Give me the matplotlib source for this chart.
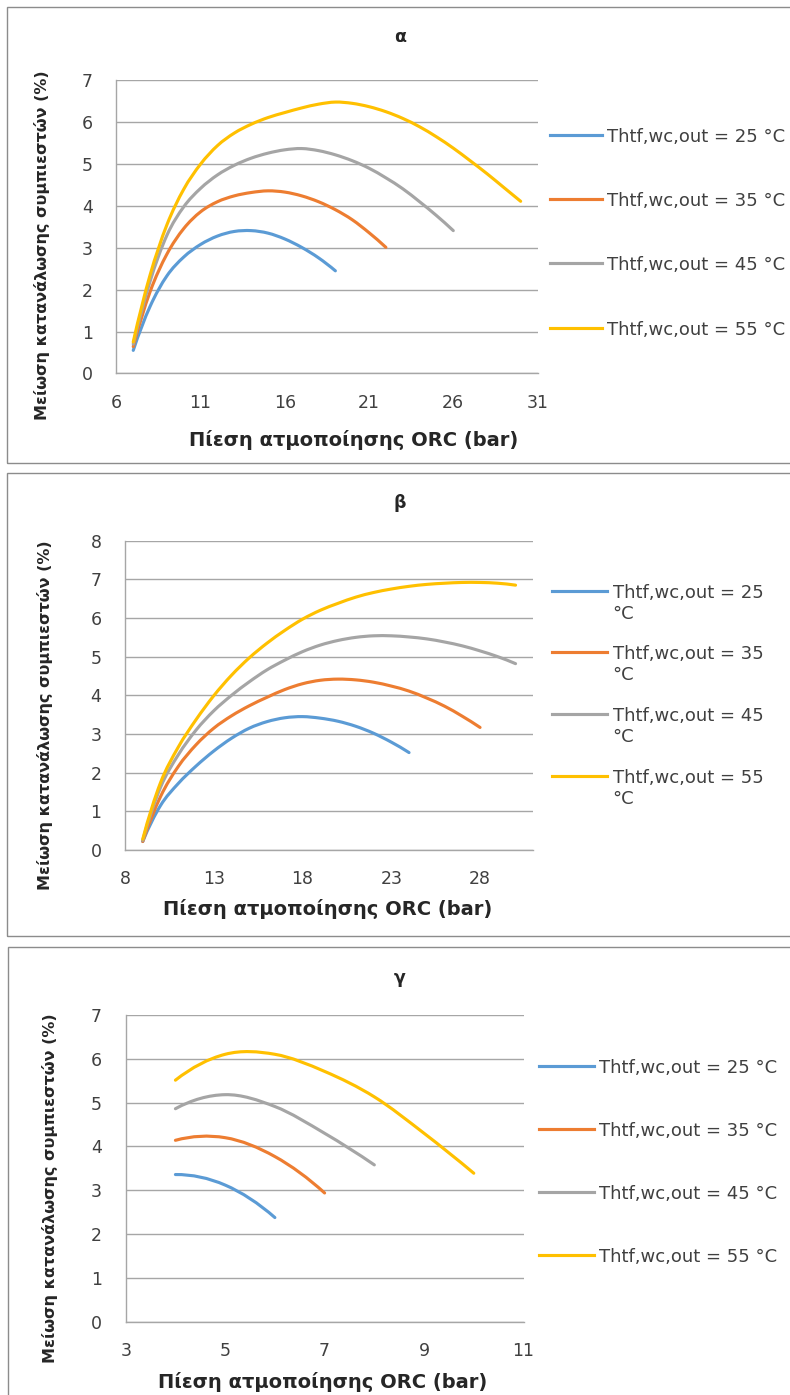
import numpy as np
import matplotlib
matplotlib.use('Agg')
import matplotlib.pyplot as plt
from matplotlib.path import Path
from matplotlib.patches import PathPatch, Rectangle
from matplotlib.lines import Line2D

# ---- δεδομένα (α) ----
p_a_25 = [7, 8, 9, 10, 11, 12, 13, 14, 15, 16, 17, 18, 19]
m_a_25 = [0.55, 1.60, 2.33, 2.78, 3.08, 3.28, 3.39, 3.41, 3.35, 3.21, 3.01, 2.76, 2.45]
p_a_35 = [7, 8, 9, 10, 11, 12, 13, 14, 15, 16, 17, 18, 19, 20, 21, 22]
m_a_35 = [0.64, 1.95, 2.85, 3.46, 3.86, 4.10, 4.24, 4.32, 4.36, 4.33, 4.24, 4.10, 3.91, 3.67, 3.36, 3.01]
p_a_45 = [7, 8, 9, 10, 11, 12, 13, 14, 15, 16, 17, 18, 19, 20, 21, 22, 23, 24, 25, 26]
m_a_45 = [0.70, 2.20, 3.30, 3.98, 4.42, 4.74, 4.97, 5.14, 5.26, 5.34, 5.37, 5.32, 5.22,
          5.08, 4.90, 4.67, 4.41, 4.10, 3.77, 3.41]
p_a_55 = [7, 8, 9, 10, 11, 12, 13, 14, 15, 16, 17, 18, 19, 20, 21, 22, 23, 24, 25, 26,
          27, 28, 29, 30]
m_a_55 = [0.75, 2.35, 3.55, 4.40, 5.00, 5.44, 5.74, 5.95, 6.11, 6.23, 6.34, 6.43, 6.48,
          6.45, 6.37, 6.25, 6.09, 5.89, 5.65, 5.38, 5.08, 4.77, 4.44, 4.11]

# ---- δεδομένα (β) ----
p_b_25 = [9, 10, 11, 12, 13, 14, 15, 16, 17, 18, 19, 20, 21, 22, 23, 24]
m_b_25 = [0.22, 1.15, 1.72, 2.17, 2.56, 2.89, 3.15, 3.32, 3.42, 3.45, 3.41, 3.33, 3.20,
          3.02, 2.79, 2.52]
p_b_35 = [9, 10, 11, 12, 13, 14, 15, 16, 17, 18, 19, 20, 21, 22, 23, 24, 25, 26, 27, 28]
m_b_35 = [0.22, 1.38, 2.16, 2.72, 3.15, 3.47, 3.73, 3.95, 4.15, 4.30, 4.39, 4.42, 4.40,
          4.34, 4.24, 4.11, 3.93, 3.72, 3.46, 3.17]
p_b_45 = [9, 10, 11, 12, 13, 14, 15, 16, 17, 18, 19, 20, 21, 22, 23, 24, 25, 26, 27, 28,
          29, 30]
m_b_45 = [0.25, 1.62, 2.46, 3.10, 3.60, 4.00, 4.35, 4.66, 4.91, 5.13, 5.30, 5.42, 5.50,
          5.54, 5.54, 5.51, 5.46, 5.38, 5.28, 5.15, 5.00, 4.82]
p_b_55 = [9, 10, 11, 12, 13, 14, 15, 16, 17, 18, 19, 20, 21, 22, 23, 24, 25, 26, 27, 28,
          29, 30]
m_b_55 = [0.28, 1.74, 2.66, 3.37, 3.99, 4.52, 4.97, 5.35, 5.68, 5.97, 6.20, 6.38, 6.54,
          6.66, 6.75, 6.82, 6.87, 6.90, 6.92, 6.92, 6.90, 6.85]

# ---- δεδομένα (γ) ----
p_g_25 = [4, 5, 6]
m_g_25 = [3.36, 3.12, 2.38]
p_g_35 = [4, 5, 6, 7]
m_g_35 = [4.14, 4.20, 3.77, 2.94]
p_g_45 = [4, 5, 6, 7, 8]
m_g_45 = [4.86, 5.18, 4.91, 4.30, 3.58]
p_g_55 = [4, 5, 6, 7, 8, 9, 10]
m_g_55 = [5.51, 6.10, 6.10, 5.71, 5.13, 4.30, 3.39]

temps = ['25', '35', '45', '55']
colors = ['#5B9BD5', '#ED7D31', '#A5A5A5', '#FFC000']
ylabel = 'Μείωση κατανάλωσης συμπιεστών (%)'
xlabel = 'Πίεση ατμοποίησης ORC (bar)'

W, H = 790, 1395
fig = plt.figure(figsize=(W / 100, H / 100), dpi=100)
fig.patch.set_facecolor('white')


def fx(px):
    return px / W


def fy(py):
    return 1 - py / H


def smooth_path(xs, ys):
    # καμπύλη Bezier μέσα από τα σημεία (smoothed line)
    pts = np.column_stack([xs, ys]).astype(float)
    n = len(pts)
    tang = np.zeros_like(pts)
    tang[1:-1] = (pts[2:] - pts[:-2]) / 2
    tang[0] = 2 * (pts[1] - pts[0]) - tang[1]
    tang[-1] = 2 * (pts[-1] - pts[-2]) - tang[-2]
    verts = [pts[0]]
    codes = [Path.MOVETO]
    for i in range(n - 1):
        verts += [pts[i] + tang[i] / 3, pts[i + 1] - tang[i + 1] / 3, pts[i + 1]]
        codes += [Path.CURVE4] * 3
    return Path(verts, codes)


def panel(box, rect, xlim, ylim, xticks, series, title, t_xy, yl_xy, xl_xy, leg, wrap):
    x0, y0, x1, y1 = box
    fig.add_artist(Rectangle((fx(x0), fy(y1)), (x1 - x0) / W, (y1 - y0) / H,
                             transform=fig.transFigure, fill=False, ec='#8c8c8c', lw=1))
    left, top, right, bottom = rect
    ax = fig.add_axes([fx(left), fy(bottom), (right - left) / W, (bottom - top) / H])
    ax.set_xlim(*xlim)
    ax.set_ylim(*ylim)
    ax.set_xticks(xticks)
    ax.set_yticks(range(ylim[0], ylim[1] + 1))
    for s in ['top', 'right']:
        ax.spines[s].set_visible(False)
    for s in ['left', 'bottom']:
        ax.spines[s].set_color('#a6a6a6')
        ax.spines[s].set_linewidth(1)
    ax.yaxis.grid(True, color='#a6a6a6', lw=1)
    ax.set_axisbelow(True)
    ax.tick_params(axis='y', length=0, pad=17, labelsize=12.5, labelcolor='#404040')
    ax.tick_params(axis='x', length=0, pad=14.5, labelsize=12.5, labelcolor='#404040')

    for (xs, ys), c in zip(series, colors):
        ax.add_patch(PathPatch(smooth_path(xs, ys), fill=False, ec=c, lw=2.25,
                               capstyle='round', joinstyle='round', zorder=3))

    fig.text(fx(t_xy[0]), fy(t_xy[1]), title, ha='center', va='center',
             fontsize=12.5, fontweight='bold', color='#262626')
    fig.text(fx(yl_xy[0]), fy(yl_xy[1]), ylabel, rotation=90, ha='center', va='center',
             fontsize=11.5, fontweight='bold', color='#262626')
    fig.text(fx(xl_xy[0]), fy(xl_xy[1]), xlabel, ha='center', va='center',
             fontsize=14, fontweight='bold', color='#262626')

    lx0, lx1, tx, lys = leg
    for t, c, y in zip(temps, colors, lys):
        fig.add_artist(Line2D([fx(lx0), fx(lx1)], [fy(y), fy(y)],
                              transform=fig.transFigure, color=c, lw=2.25))
        label = 'Thtf,wc,out = ' + t + ('\n°C' if wrap else ' °C')
        fig.text(fx(tx), fy(y - 7), label, ha='left', va='top', fontsize=13,
                 color='#404040')
    return ax


panel((7.3, 7.3, 800, 462.7), (116.4, 80.3, 537.5, 373.4), (6, 31), (0, 7),
      [6, 11, 16, 21, 26, 31],
      [(p_a_25, m_a_25), (p_a_35, m_a_35), (p_a_45, m_a_45), (p_a_55, m_a_55)],
      'α', (400, 37), (42, 245), (353.6, 440),
      (550, 601.7, 606.7, [135, 199.3, 263.3, 328.3]), False)

panel((7.3, 472.7, 800, 935.7), (125, 540.7, 533.3, 850), (8, 31), (0, 8),
      [8, 13, 18, 23, 28],
      [(p_b_25, m_b_25), (p_b_35, m_b_35), (p_b_45, m_b_45), (p_b_55, m_b_55)],
      'β', (400, 503.3), (45.5, 715), (327.7, 909),
      (551.7, 606.7, 612.7, [591, 651.7, 714, 776]), True)

panel((8.3, 946.7, 800, 1400), (125.7, 1014.8, 523.5, 1322), (3, 11), (0, 7),
      [3, 5, 7, 9, 11],
      [(p_g_25, m_g_25), (p_g_35, m_g_35), (p_g_45, m_g_45), (p_g_55, m_g_55)],
      'γ', (400, 978.3), (50, 1188), (323, 1381.7),
      (539, 594, 599, [1065.7, 1129, 1192.3, 1255]), False)

fig.savefig('out.png', dpi=100)
